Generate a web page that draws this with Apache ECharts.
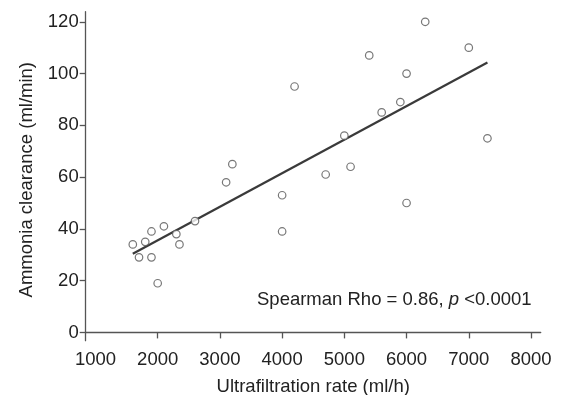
<!DOCTYPE html>
<html>
<head>
<meta charset="utf-8">
<script src="https://cdn.jsdelivr.net/npm/echarts@6/dist/echarts.min.js"></script>
<style>html,body{margin:0;padding:0;background:#fff}#c{width:564px;height:395px}</style>
</head>
<body>
<div id="c"></div>
<script>
// Ultrafiltration rate (ml/h)
const ufRate = [1600, 1700, 1800, 1900, 1900, 2000, 2100, 2300, 2350, 2600, 3100, 3200, 4000, 4000, 4200, 4700, 5000, 5100, 5400, 5600, 5900, 6000, 6000, 6300, 7000, 7300];
// Ammonia clearance (ml/min)
const clearance = [34, 29, 35, 39, 29, 19, 41, 38, 34, 43, 58, 65, 53, 39, 95, 61, 76, 64, 107, 85, 89, 100, 50, 120, 110, 75];
// fitted regression line endpoints [x, y]
const fitX = [1600, 7300];
const fitY = [30.4, 104.3];
const xTicks = [2000, 3000, 4000, 5000, 6000, 7000, 8000];
const xLabels = [1000, 2000, 3000, 4000, 5000, 6000, 7000, 8000];
const yTicks = [0, 20, 40, 60, 80, 100, 120];
const annotation = 'Spearman Rho = 0.86, ';

const pts = ufRate.map((x, i) => [x, clearance[i]]);
const fit = fitX.map((x, i) => [x, fitY[i]]);
const font = 'Liberation Sans, Arial, sans-serif';
const fs = 18.5;
const axisCol = '#555';
const textCol = '#222';

const chart = echarts.init(document.getElementById('c'));
chart.setOption({
  animation: false,
  grid: {left: 85.7, right: 23.3, top: 11.7, bottom: 54.3, containLabel: false, outerBoundsMode: 'none'},
  xAxis: {
    type: 'value', min: 843, max: 8156,
    name: 'Ultrafiltration rate (ml/h)', nameLocation: 'middle', nameGap: 37,
    nameTextStyle: {fontFamily: font, fontSize: fs, color: textCol},
    axisLine: {show: true, lineStyle: {color: axisCol, width: 1.3}},
    axisTick: {show: true, length: 6, inside: false, customValues: xTicks, lineStyle: {color: axisCol, width: 1.3}},
    axisLabel: {customValues: xLabels, margin: 10, fontFamily: font, fontSize: fs, color: textCol,
      formatter: v => String(Math.round(v))},
    splitLine: {show: false}
  },
  yAxis: {
    type: 'value', min: -3.2, max: 123.9,
    name: 'Ammonia clearance (ml/min)', nameLocation: 'middle', nameGap: 49,
    nameTextStyle: {fontFamily: font, fontSize: fs, color: textCol, padding: [0, 7, 0, 0]},
    axisLine: {show: true, lineStyle: {color: axisCol, width: 1.3}},
    axisTick: {show: true, length: 6, customValues: yTicks, lineStyle: {color: axisCol, width: 1.3}},
    axisLabel: {customValues: yTicks, margin: 7, fontFamily: font, fontSize: fs, color: textCol,
      formatter: v => String(Math.round(v))},
    splitLine: {show: false}
  },
  series: [
    {
      type: 'line', data: fit, symbol: 'none',
      lineStyle: {color: '#3a3a3a', width: 2.2}, z: 2
    },
    {
      type: 'scatter', data: pts, symbol: 'circle', symbolSize: 7.5,
      itemStyle: {color: '#fff', borderColor: '#555', borderWidth: 1.2}, z: 3
    }
  ],
  graphic: [{
    type: 'text', left: 257, top: 290,
    style: {
      text: '{n|' + annotation + '}{i|p}{n| <0.0001}',
      rich: {
        n: {fontFamily: font, fontSize: fs, fill: textCol},
        i: {fontFamily: font, fontSize: fs, fontStyle: 'italic', fill: textCol}
      }
    }
  }]
});
</script>
</body>
</html>
